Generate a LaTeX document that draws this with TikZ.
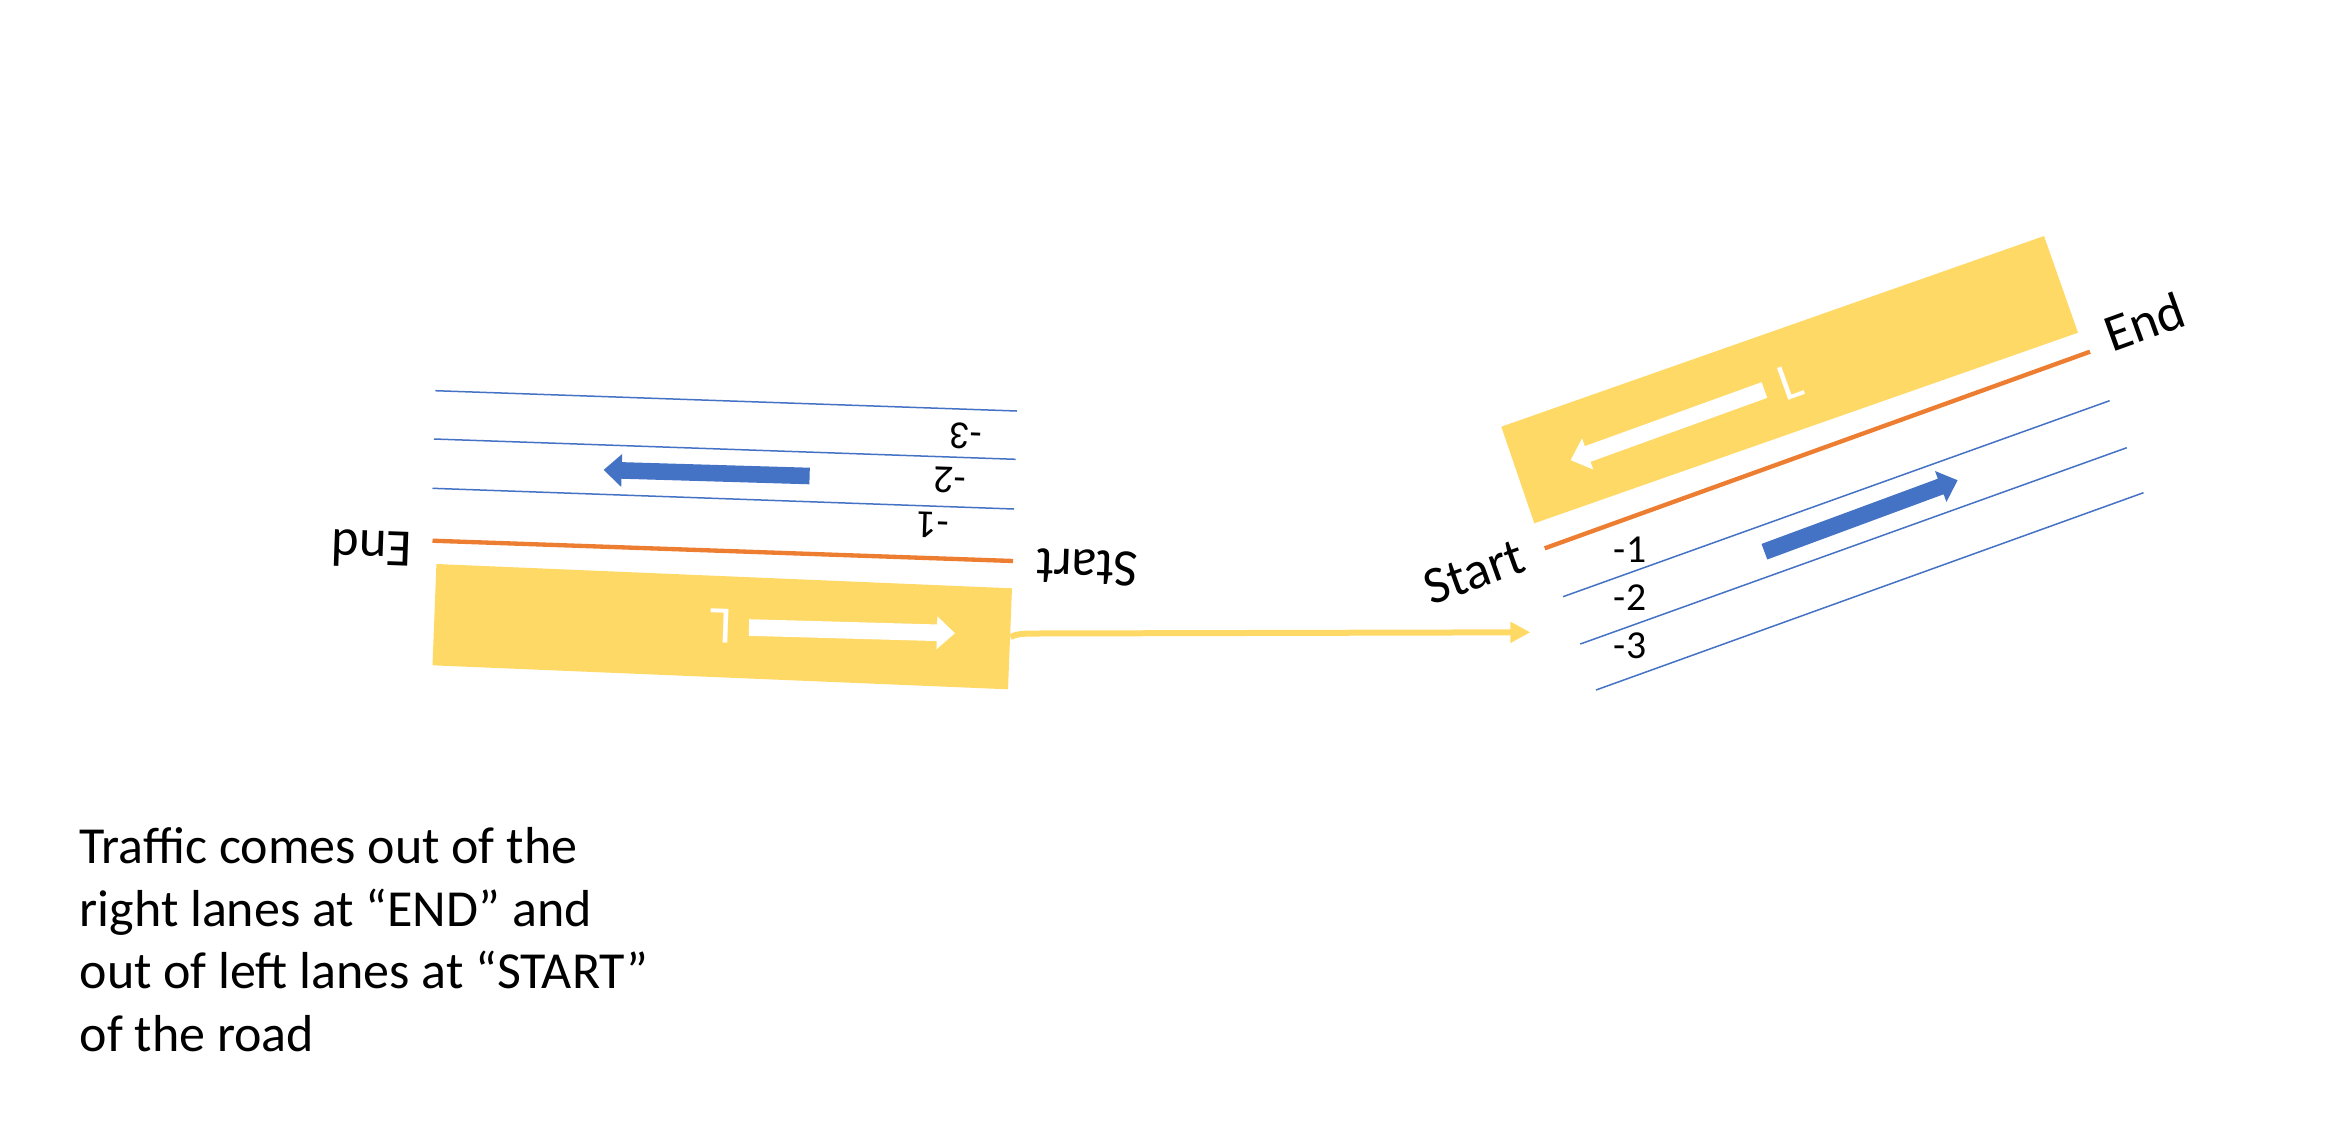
\documentclass[tikz,border=0pt]{standalone}
\usepackage{fontspec}
\setmainfont{Carlito}
\usetikzlibrary{arrows.meta}
\definecolor{roadyellow}{HTML}{FFD966}
\definecolor{roadorange}{HTML}{ED7D31}
\definecolor{laneblue}{HTML}{4472C4}
\newcommand{\blockarrow}[3]{%
  \begin{scope}[shift={#2}, rotate=#3]
    \fill[#1] (0,-8.3) -- (188,-8.3) -- (188,-16.5) -- (206,0) -- (188,16.5) -- (188,8.3) -- (0,8.3) -- cycle;
  \end{scope}}
\begin{document}
\begin{tikzpicture}[x=0.3pt,y=-0.3pt,
  laneline/.style={draw=laneblue, line width=0.45pt},
  edgeline/.style={draw=roadorange, line width=1.3pt},
  verge/.style={fill=roadyellow},
  endlabel/.style={font=\fontsize{15.8}{19}\selectfont, inner sep=0},
  lanelabel/.style={font=\fontsize{11.9}{14}\selectfont, inner sep=0},
  bodytext/.style={font=\fontsize{15.6}{19}\selectfont, inner sep=0, anchor=base west},
  connector/.style={draw=roadyellow, line width=1.8pt, -{Triangle[length=6pt,width=6pt]}},
]
\useasboundingbox (0,0) rectangle (2328,1138);

% ---------- left road (upside down) ----------
\fill[verge] (436.4,564) -- (1012,588.3) -- (1008,689.3) -- (432.5,665.3) -- cycle;
\draw[laneline] (435.4,390.7) -- (1017,411);
\draw[laneline] (434,439) -- (1015.6,459.3);
\draw[laneline] (432.5,488.3) -- (1014,509);
\draw[edgeline] (432.5,540.7) -- (1013,561);
\blockarrow{white}{(749,627.5)}{-1.6}
\blockarrow{laneblue}{(809.6,476)}{178.3}
\node[endlabel, rotate=178] (lend) at (371.7,549) {End};
\node[endlabel, rotate=178] (lstart) at (1087,567.3) {Start};
\node[endlabel, rotate=178, text=white] (lL) at (721,625.7) {L};
\node[lanelabel, rotate=178] (lm3) at (966,436) {-3};
\node[lanelabel, rotate=178] (lm2) at (950,480.7) {-2};
\node[lanelabel, rotate=178] (lm1) at (933,525) {-1};

% ---------- right road ----------
\fill[verge] (1501.3,426.7) -- (2044,236) -- (2078,332.7) -- (1534.3,523.3) -- cycle;
\draw[edgeline] (1544.7,548.3) -- (2090,351.7);
\draw[laneline] (1563,596.7) -- (2109.6,400.7);
\draw[laneline] (1580.3,644) -- (2126.8,447.7);
\draw[laneline] (1596,690) -- (2143.5,492.7);
\blockarrow{white}{(1764.4,390)}{199.9}
\blockarrow{laneblue}{(1764.4,551.7)}{20.3}
\node[endlabel, rotate=19.8] (rstart) at (1474,572) {Start};
\node[endlabel, rotate=19.8] (rend) at (2144.6,321.7) {End};
\node[endlabel, rotate=19.8, text=white] (rL) at (1790.5,381.7) {L};
\node[lanelabel] (rm1) at (1630,549.3) {-1};
\node[lanelabel] (rm2) at (1630,597.7) {-2};
\node[lanelabel] (rm3) at (1630,646) {-3};

% ---------- connector ----------
\coordinate (cstart) at (1010.6,637);
\coordinate (cend) at (1530.3,632.3);
\draw[connector] (cstart) .. controls (1016,634) and (1022,633.6) .. (1034,633.5) -- (cend);

% ---------- caption ----------
\node[bodytext] (t1) at (79,863.5) {Traffic comes out of the};
\node[bodytext] (t2) at (79,926.2) {right lanes at “END” and};
\node[bodytext] (t3) at (79,988.9) {out of left lanes at “START”};
\node[bodytext] (t4) at (79,1051.7) {of the road};
\end{tikzpicture}
\end{document}
